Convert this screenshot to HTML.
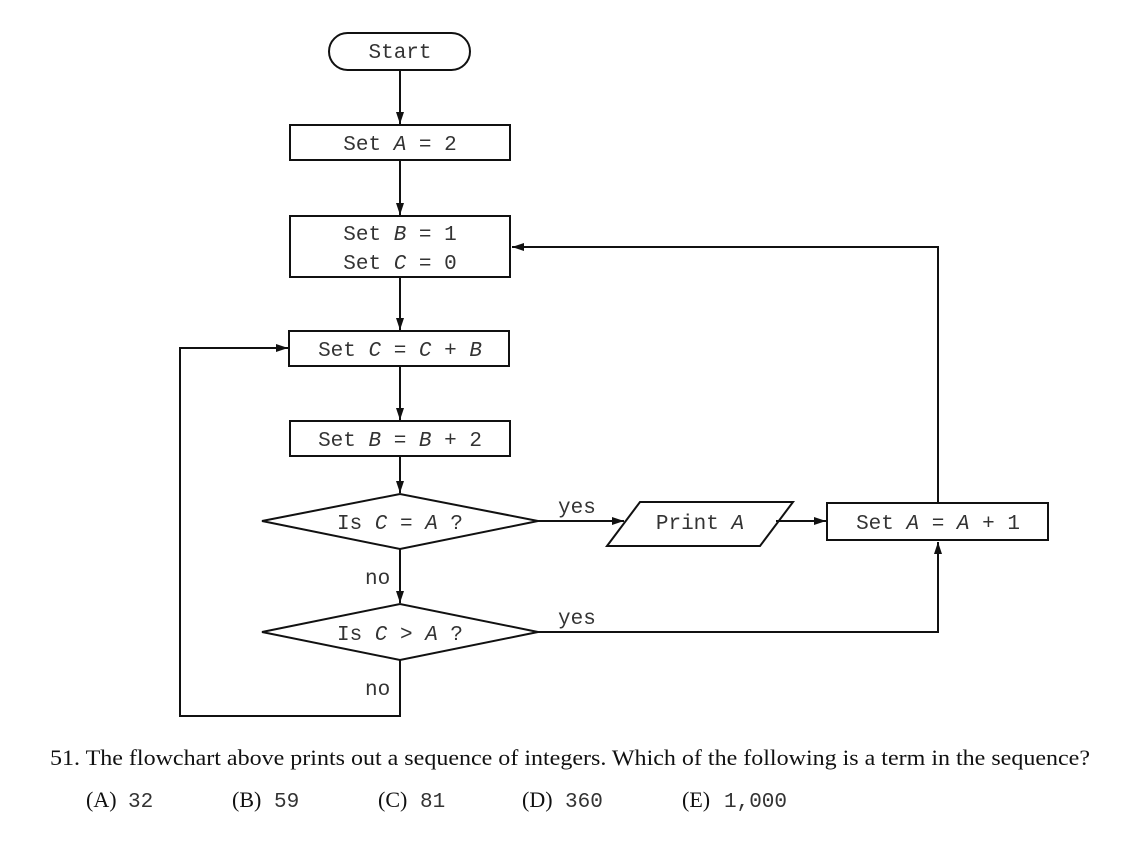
<!DOCTYPE html>
<html><head><style>
html,body{margin:0;padding:0;background:#fff;}
svg text.m{font-family:"Liberation Mono",monospace;font-size:21px;fill:#333;}
svg text.s{font-family:"Liberation Serif",serif;font-size:22px;fill:#111;}
</style></head><body>
<svg width="1143" height="847" viewBox="0 0 1143 847" xmlns="http://www.w3.org/2000/svg">
<defs><marker id="a" markerWidth="12" markerHeight="8" refX="12" refY="4" orient="auto" markerUnits="userSpaceOnUse"><path d="M0,0 L12,4 L0,8 z" fill="#111"/></marker></defs>
<g stroke="#111" stroke-width="2" fill="none">
<rect x="329" y="33" width="141" height="37" rx="18.5"/>
<rect x="290" y="125" width="220" height="35"/>
<rect x="290" y="216" width="220" height="61"/>
<rect x="289" y="331" width="220" height="35"/>
<rect x="290" y="421" width="220" height="35"/>
<polygon points="262,521 400,494 538,521 400,549"/>
<polygon points="262,632 400,604 538,632 400,660"/>
<polygon points="607,546 640,502 793,502 760,546"/>
<rect x="827" y="503" width="221" height="37"/>
<line x1="400" y1="70" x2="400" y2="124" marker-end="url(#a)"/>
<line x1="400" y1="160" x2="400" y2="215" marker-end="url(#a)"/>
<line x1="400" y1="277" x2="400" y2="330" marker-end="url(#a)"/>
<line x1="400" y1="366" x2="400" y2="420" marker-end="url(#a)"/>
<line x1="400" y1="456" x2="400" y2="493" marker-end="url(#a)"/>
<line x1="400" y1="549" x2="400" y2="603" marker-end="url(#a)"/>
<line x1="538" y1="521" x2="624" y2="521" marker-end="url(#a)"/>
<line x1="776" y1="521" x2="826" y2="521" marker-end="url(#a)"/>
<polyline points="538,632 938,632 938,542" marker-end="url(#a)"/>
<polyline points="938,503 938,247 512,247" marker-end="url(#a)"/>
<polyline points="400,660 400,716 180,716 180,348 288,348" marker-end="url(#a)"/>
</g>
<text class="m" x="400" y="58" text-anchor="middle">Start</text>
<text class="m" x="400" y="150" text-anchor="middle">Set <tspan font-style="italic">A</tspan> = 2</text>
<text class="m" x="400" y="240" text-anchor="middle">Set <tspan font-style="italic">B</tspan> = 1</text>
<text class="m" x="400" y="269" text-anchor="middle">Set <tspan font-style="italic">C</tspan> = 0</text>
<text class="m" x="400" y="356" text-anchor="middle">Set <tspan font-style="italic">C</tspan> = <tspan font-style="italic">C</tspan> + <tspan font-style="italic">B</tspan></text>
<text class="m" x="400" y="446" text-anchor="middle">Set <tspan font-style="italic">B</tspan> = <tspan font-style="italic">B</tspan> + 2</text>
<text class="m" x="400" y="529" text-anchor="middle">Is <tspan font-style="italic">C</tspan> = <tspan font-style="italic">A</tspan> ?</text>
<text class="m" x="400" y="640" text-anchor="middle">Is <tspan font-style="italic">C</tspan> &gt; <tspan font-style="italic">A</tspan> ?</text>
<text class="m" x="700" y="529" text-anchor="middle">Print <tspan font-style="italic">A</tspan></text>
<text class="m" x="938" y="529" text-anchor="middle">Set <tspan font-style="italic">A</tspan> = <tspan font-style="italic">A</tspan> + 1</text>
<text class="m" x="558" y="513">yes</text>
<text class="m" x="558" y="624">yes</text>
<text class="m" x="365" y="584">no</text>
<text class="m" x="365" y="695">no</text>
<text class="s" x="50" y="765" textLength="1040" lengthAdjust="spacingAndGlyphs">51. The flowchart above prints out a sequence of integers. Which of the following is a term in the sequence?</text>
<text class="s" x="86" y="807">(A)</text><text class="m" x="128" y="807">32</text>
<text class="s" x="232" y="807">(B)</text><text class="m" x="274" y="807">59</text>
<text class="s" x="378" y="807">(C)</text><text class="m" x="420" y="807">81</text>
<text class="s" x="522" y="807">(D)</text><text class="m" x="565" y="807">360</text>
<text class="s" x="682" y="807">(E)</text><text class="m" x="724" y="807">1,000</text>
</svg>
</body></html>
